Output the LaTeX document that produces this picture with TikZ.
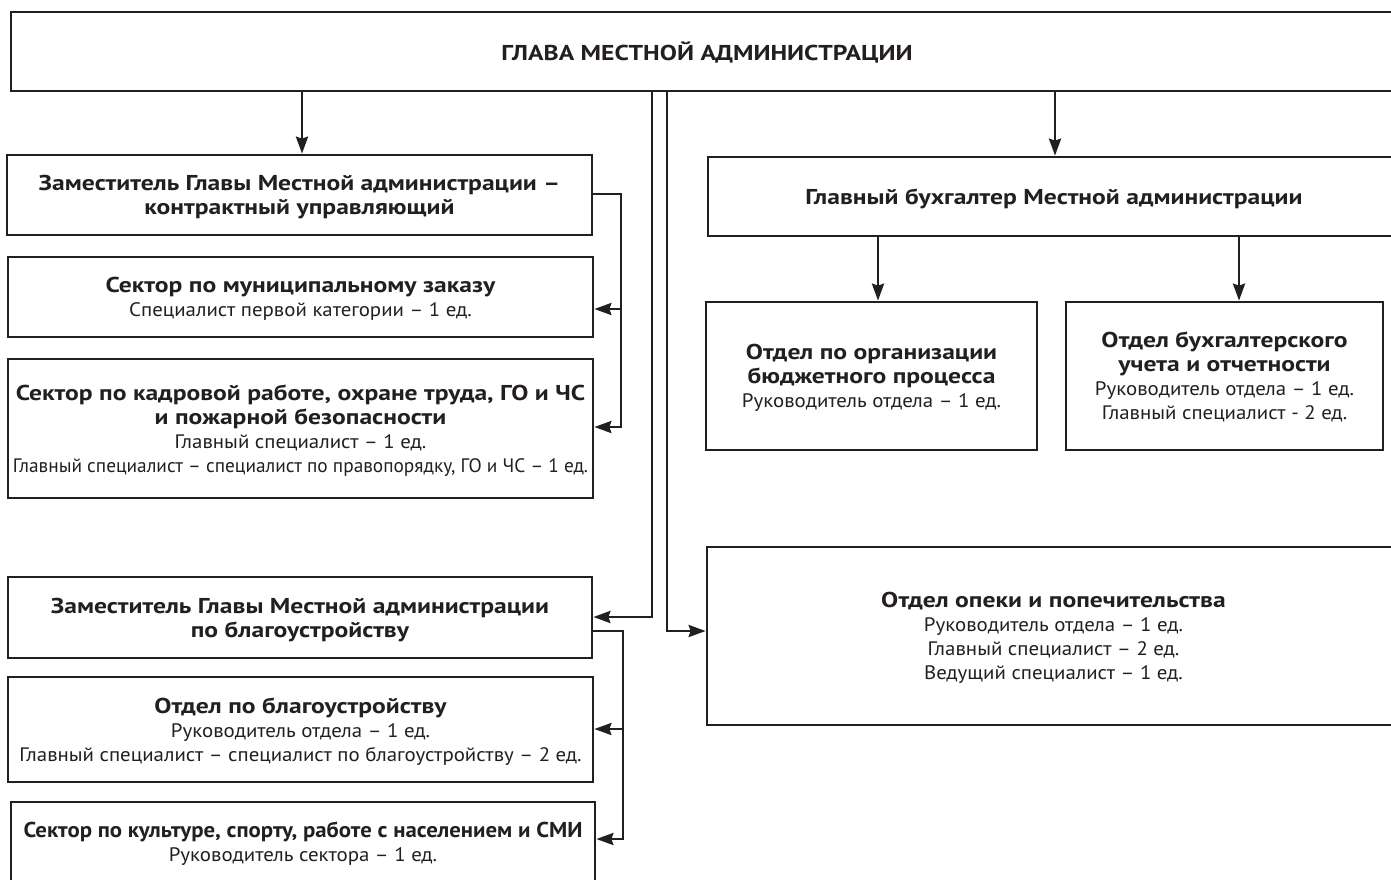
\documentclass[tikz,border=0pt]{standalone}
\usepackage{fontspec}
\setmainfont{PT Sans}
\newfontfamily\bfam{PT Sans}[FakeStretch=1.19]
\newfontfamily\bfamn{PT Sans}[FakeStretch=1.06]
\newfontfamily\rfam{PT Sans}[FakeStretch=1.07]
\newfontfamily\rfamn{PT Sans}[FakeStretch=0.99]
\newcommand\boldline[1]{{\bfam\bfseries\fontsize{21.5}{24}\selectfont #1}}
\newcommand\boldlinen[1]{{\bfamn\bfseries\fontsize{21.5}{24}\selectfont #1}}
\newcommand\regline[1]{{\rfam\fontsize{19.5}{24}\selectfont #1}}
\newcommand\reglinen[1]{{\rfamn\fontsize{19.5}{24}\selectfont #1}}
\newcommand\boxtext[1]{\raisebox{-3pt}[\height][\depth]{\begin{tabular}{@{}c@{}}#1\end{tabular}}}
\usetikzlibrary{arrows.meta,calc}
\definecolor{ink}{HTML}{231F20}
\begin{document}
\begin{tikzpicture}[x=1pt,y=-1pt,
  box/.style={draw=ink,line width=2.7pt,rectangle,inner sep=0pt,
    font=\fontsize{19.5}{24}\selectfont,text=ink},
  conn/.style={draw=ink,line width=2.7pt},
  arr/.style={conn,-{Stealth[length=17pt,width=12pt,inset=2pt]}}]
\useasboundingbox (0,0) rectangle (1391,879);
\clip (0,0) rectangle (1391,879);
\fill[white] (0,0) rectangle (1391,879);

% boxes
\node[box,minimum width=1392pt,minimum height=79pt] (T) at (707,51.5) {\boxtext{\boldline{ГЛАВА МЕСТНОЙ АДМИНИСТРАЦИИ}}};
\node[box,minimum width=585pt,minimum height=80pt] (A) at (299.5,195) {\boxtext{\boldline{Заместитель Главы Местной администрации –}\\\boldline{контрактный управляющий}}};
\node[box,minimum width=585pt,minimum height=80pt] (B) at (300.5,297) {\boxtext{\boldline{Сектор по муниципальному заказу}\\\regline{Специалист первой категории – 1 ед.}}};
\node[box,minimum width=585pt,minimum height=139pt] (C) at (300.5,428.5) {\boxtext{\boldline{Сектор по кадровой работе, охране труда, ГО и ЧС}\\\boldline{и пожарной безопасности}\\\regline{Главный специалист – 1 ед.}\\\reglinen{Главный специалист – специалист по правопорядку, ГО и ЧС – 1 ед.}}};
\node[box,minimum width=584pt,minimum height=81pt] (D) at (300,617.5) {\boxtext{\boldline{Заместитель Главы Местной администрации}\\\boldline{по благоустройству}}};
\node[box,minimum width=585pt,minimum height=105pt] (E) at (300.5,729.5) {\boxtext{\boldline{Отдел по благоустройству}\\\regline{Руководитель отдела – 1 ед.}\\\regline{Главный специалист – специалист по благоустройству – 2 ед.}}};
\node[box,minimum width=584pt,minimum height=80pt] (G) at (303,842) {\boxtext{\boldlinen{Сектор по культуре, спорту, работе с населением и СМИ}\\\regline{Руководитель сектора – 1 ед.}}};
\node[box,minimum width=692pt,minimum height=79pt] (GB) at (1054,196.5) {\boxtext{\boldline{Главный бухгалтер Местной администрации}}};
\node[box,minimum width=331pt,minimum height=148pt] (H) at (871.5,376) {\boxtext{\boldline{Отдел по организации}\\\boldline{бюджетного процесса}\\\regline{Руководитель отдела – 1 ед.}}};
\node[box,minimum width=317pt,minimum height=148pt] (I) at (1224.5,376) {\boxtext{\boldline{Отдел бухгалтерского}\\\boldline{учета и отчетности}\\\regline{Руководитель отдела – 1 ед.}\\\regline{Главный специалист - 2 ед.}}};
\node[box,minimum width=693pt,minimum height=178pt] (F) at (1053.5,636) {\boxtext{\boldline{Отдел опеки и попечительства}\\\regline{Руководитель отдела – 1 ед.}\\\regline{Главный специалист – 2 ед.}\\\regline{Ведущий специалист – 1 ед.}}};

% guide coordinates
\coordinate (xA) at (302,0);
\coordinate (xGB) at (1055,0);
\coordinate (xH) at (878,0);
\coordinate (xI) at (1239,0);
\coordinate (busA) at (621,0);
\coordinate (xD) at (652,0);
\coordinate (xF) at (667,0);
\coordinate (busD) at (623,0);
\coordinate (yAout) at (0,194);
\coordinate (yB) at (0,309);
\coordinate (yC) at (0,427);
\coordinate (yD) at (0,617);
\coordinate (yF) at (0,631);
\coordinate (yDout) at (0,631);
\coordinate (yE) at (0,729);
\coordinate (yG) at (0,839);

% connectors
\draw[arr] (T.south -| xA) -- (A.north -| xA);
\draw[arr] (T.south -| xGB) -- (GB.north -| xGB);
\draw[arr] (GB.south -| xH) -- (H.north -| xH);
\draw[arr] (GB.south -| xI) -- (I.north -| xI);
\draw[arr] (A.east |- yAout) -| (busA |- yC) -- (C.east |- yC);
\draw[arr] (busA |- yB) -- (B.east |- yB);
\draw[arr] (T.south -| xD) |- (D.east |- yD);
\draw[arr] (T.south -| xF) |- (F.west |- yF);
\draw[arr] (D.east |- yDout) -| (busD |- yG) -- (G.east |- yG);
\draw[arr] (busD |- yE) -- (E.east |- yE);
\end{tikzpicture}
\end{document}
